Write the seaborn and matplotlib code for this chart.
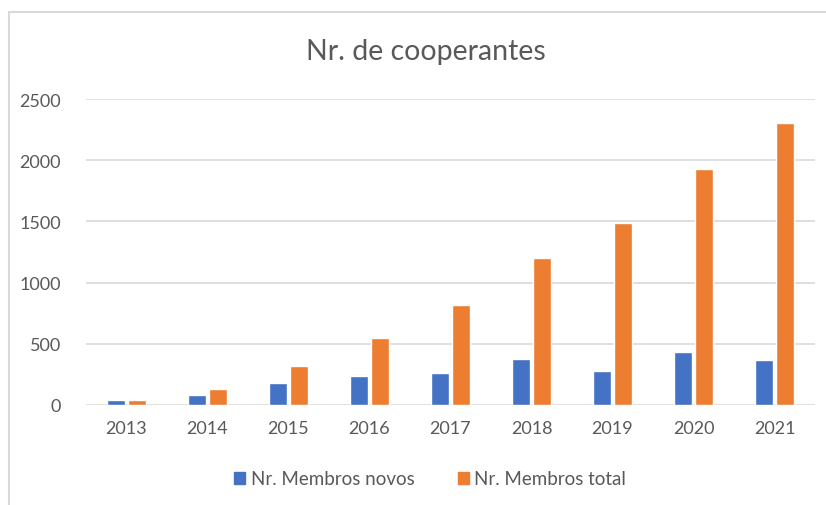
import matplotlib
matplotlib.use("Agg")
import matplotlib.pyplot as plt
import seaborn as sns
import pandas as pd
from matplotlib.patches import Rectangle

years = ["2013", "2014", "2015", "2016", "2017", "2018", "2019", "2020", "2021"]
novos = [42, 80, 180, 234, 259, 377, 278, 432, 368]
total = [42, 127, 316, 551, 813, 1204, 1489, 1932, 2307]
series_names = ["Nr. Membros novos", "Nr. Membros total"]
colors = ["#4472C4", "#ED7D31"]

df = pd.DataFrame({
    "Ano": years * 2,
    "Valor": novos + total,
    "Serie": [series_names[0]] * len(years) + [series_names[1]] * len(years),
})

sns.set_theme(style="white")
plt.rcParams["font.family"] = ["Lato", "DejaVu Sans"]

fig = plt.figure(figsize=(8.26, 5.06), dpi=100)
ax = fig.add_axes([86 / 826, 1 - 406 / 506, (815 - 86) / 826, 306 / 506])

sns.barplot(data=df, x="Ano", y="Valor", hue="Serie", palette=colors,
            width=0.52, gap=0.15, ax=ax, legend=False, saturation=1)

ax.set_ylim(0, 2500)
ax.set_yticks([0, 500, 1000, 1500, 2000, 2500])
ax.set_xlim(-0.5, len(years) - 0.5)
ax.yaxis.grid(True, color="#D9D9D9", linewidth=1.2)
ax.set_axisbelow(True)
for s in ax.spines.values():
    s.set_visible(False)
ax.tick_params(axis="both", length=0, colors="#595959", labelsize=13)
ax.tick_params(axis="x", pad=11)
ax.tick_params(axis="y", pad=18)
ax.set_xlabel("")
ax.set_ylabel("")

fig.text(426 / 826, 1 - 52 / 506, "Nr. de cooperantes", ha="center", va="center",
         fontsize=20.5, color="#595959")

handles = [Rectangle((0, 0), 1, 1, color=c) for c in colors]
fig.legend(handles, series_names, loc="center", bbox_to_anchor=(430 / 826, 1 - 480 / 506),
           ncol=2, frameon=False, fontsize=13.5, labelcolor="#595959",
           handlelength=0.6, handleheight=0.6, handletextpad=0.3, columnspacing=2.3)

border = Rectangle((9 / 826, -0.1), 1.2, 1 - 13 / 506 + 0.1, transform=fig.transFigure,
                   fill=False, edgecolor="#D9D9D9", linewidth=1.5)
fig.patches.append(border)

fig.savefig("out.png", dpi=100)
